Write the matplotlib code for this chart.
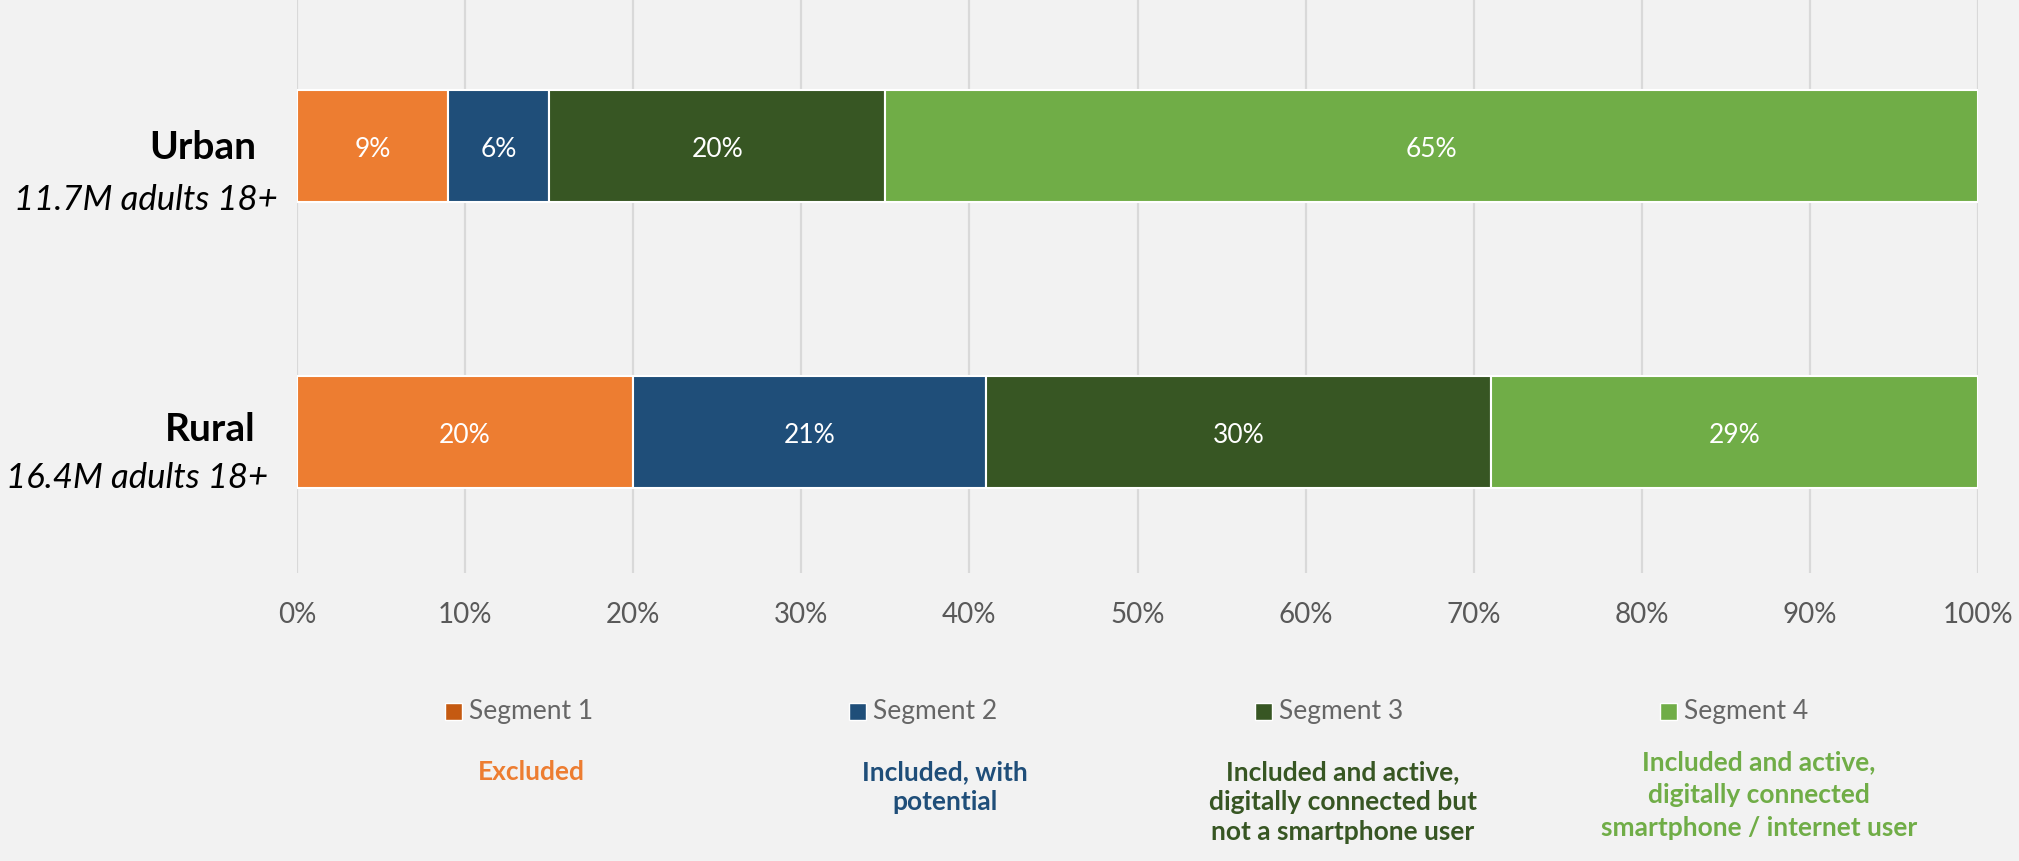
import matplotlib
matplotlib.use("Agg")
import matplotlib.pyplot as plt
import matplotlib.patches as mpatches
import matplotlib.transforms as mtransforms
import numpy as np

plt.rcParams["font.family"] = ["Lato", "DejaVu Sans"]

# Dados: participação de cada segmento por área
areas = ["Urban", "Rural"]
populacao = ["11.7M adults 18+", "16.4M adults 18+"]
segmentos = ["Segment 1", "Segment 2", "Segment 3", "Segment 4"]
valores = np.array([
    [9, 6, 20, 65],    # Urban
    [20, 21, 30, 29],  # Rural
]) / 100.0
descricoes = [
    "Excluded",
    "Included, with\npotential",
    "Included and active,\ndigitally connected but\nnot a smartphone user",
    "Included and active,\ndigitally connected\nsmartphone / internet user",
]
ticks = np.arange(0, 1.01, 0.1)

CORES = ["#ED7D31", "#1F4E79", "#375623", "#70AD47"]
CORES_LEGENDA = ["#C55A11", "#1F4E79", "#375623", "#70AD47"]
FUNDO = "#F2F2F2"
CINZA = "#595959"

fig = plt.figure(figsize=(20.19, 8.61), dpi=100, facecolor=FUNDO)
ax = fig.add_axes([297 / 2019, 288 / 861, (1978 - 297) / 2019, 573 / 861])
ax.set_facecolor(FUNDO)

y = np.arange(len(areas))
esquerda = np.zeros(len(areas))
for j, seg in enumerate(segmentos):
    barras = ax.barh(y, valores[:, j], left=esquerda, height=0.392,
                     color=CORES[j], edgecolor="white", linewidth=1.5, zorder=3)
    for barra, v in zip(barras, valores[:, j]):
        ax.text(barra.get_x() + barra.get_width() / 2,
                barra.get_y() + barra.get_height() / 2 + 0.012,
                f"{v * 100:.0f}%", ha="center", va="center",
                color="white", fontsize=19, zorder=4)
    esquerda += valores[:, j]

ax.set_xlim(0, 1)
ax.set_ylim(1.493, -0.510)
ax.set_xticks(ticks)
ax.set_xticklabels([f"{t * 100:.0f}%" for t in ticks])
ax.tick_params(axis="x", length=0, pad=21, labelsize=20, colors=CINZA)
ax.set_yticks([])
ax.grid(axis="x", color="#D9D9D9", linewidth=1.6, zorder=0)
for s in ax.spines.values():
    s.set_visible(False)

# Rótulos das áreas à esquerda
trans = mtransforms.blended_transform_factory(fig.transFigure, ax.transData)
x_pop = [278, 268]
dy_pop = [0.19, 0.16]
dy_area = [0.005, -0.007]
for i, (area, pop) in enumerate(zip(areas, populacao)):
    ax.text(256 / 2019, i + dy_area[i], area, transform=trans, ha="right",
            va="center", fontsize=28, fontweight="bold", color="black")
    ax.text(x_pop[i] / 2019, i + dy_pop[i], pop, transform=trans, ha="right",
            va="center", fontsize=25, style="italic", color="black")

# Legenda manual com descrições
x_quadrado = [445, 849, 1255, 1660]
x_desc = [531, 945, 1343, 1759]
topo_desc = [760, 760, 760, 750]
espaco = [1.3, 1.3, 1.3, 1.45]
for j, seg in enumerate(segmentos):
    fig.patches.append(mpatches.Rectangle(
        (x_quadrado[j] / 2019, (861 - 712 - 8) / 861), 17 / 2019, 17 / 861,
        transform=fig.transFigure, facecolor=CORES_LEGENDA[j],
        edgecolor="white", linewidth=1))
    fig.text((x_quadrado[j] + 24) / 2019, (861 - 712) / 861, seg,
             ha="left", va="center", fontsize=19, color="#666666")
    fig.text(x_desc[j] / 2019, (861 - topo_desc[j]) / 861, descricoes[j],
             ha="center", va="top", fontsize=19, fontweight="bold",
             color=CORES[j], linespacing=espaco[j])

fig.savefig("out.png", dpi=100, facecolor=fig.get_facecolor())
